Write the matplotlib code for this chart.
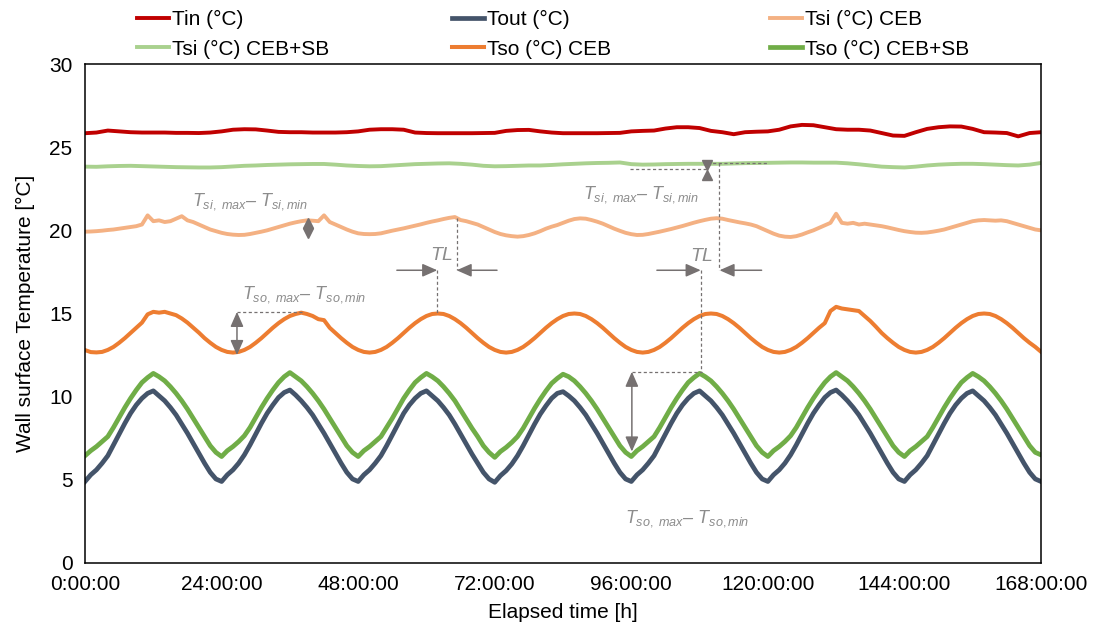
import numpy as np
import matplotlib
matplotlib.use('Agg')
import matplotlib.pyplot as plt

plt.rcParams['font.family'] = ['Liberation Sans', 'DejaVu Sans']
plt.rcParams['mathtext.fontset'] = 'custom'
plt.rcParams['mathtext.it'] = 'Liberation Sans:italic'
plt.rcParams['mathtext.rm'] = 'Liberation Sans'

# elapsed time [h]
hours = np.arange(0, 169)       # hourly readings
hours2 = np.arange(0, 169, 2)   # 2-hourly readings for the flat curves

tin = [25.84, 25.88, 26.0, 25.95, 25.9, 25.88, 25.88, 25.88, 25.86, 25.86, 25.85, 25.88,
       25.95, 26.05, 26.08, 26.07, 26.0, 25.92, 25.9, 25.9, 25.88, 25.88, 25.88, 25.9,
       25.95, 26.05, 26.08, 26.08, 26.05, 25.88, 25.85, 25.84, 25.84, 25.84, 25.84, 25.85,
       25.86, 25.98, 26.03, 26.04, 25.95, 25.88, 25.84, 25.84, 25.84, 25.84, 25.85, 25.86,
       25.95, 25.98, 26.0, 26.12, 26.2, 26.2, 26.15, 25.98, 25.9, 25.78, 25.9, 25.93,
       25.95, 26.05, 26.25, 26.34, 26.32, 26.2, 26.08, 26.05, 26.05, 26.0, 25.85, 25.7,
       25.68, 25.9, 26.1, 26.2, 26.25, 26.24, 26.1, 25.9, 25.88, 25.85, 25.65, 25.85,
       25.9]

tsi_sb = [23.83, 23.82, 23.85, 23.87, 23.88, 23.86, 23.84, 23.82, 23.8, 23.79, 23.78, 23.78,
          23.8, 23.84, 23.88, 23.9, 23.93, 23.95, 23.97, 23.98, 23.99, 23.99, 23.95, 23.9,
          23.87, 23.85, 23.86, 23.9, 23.94, 23.98, 24.0, 24.02, 24.03, 24.0, 23.95, 23.88,
          23.85, 23.86, 23.88, 23.9, 23.9, 23.93, 23.97, 24.0, 24.03, 24.05, 24.06, 24.08,
          23.98, 23.95, 23.96, 23.98, 23.99, 24.0, 24.0, 24.0, 24.0, 24.02, 24.04, 24.05,
          24.06, 24.07, 24.08, 24.08, 24.07, 24.07, 24.07, 24.03, 23.97, 23.9, 23.83, 23.8,
          23.78, 23.83, 23.9, 23.95, 23.98, 24.0, 24.0, 23.98, 23.95, 23.92, 23.9, 23.95,
          24.05]

tout = [4.9, 5.3, 5.6, 6.0, 6.45, 7.1, 7.75, 8.4, 9.0, 9.5, 9.9, 10.2, 10.35, 10.05, 9.75, 9.35, 8.9, 8.35, 7.8, 7.2, 6.6, 6.0, 5.45, 5.05,
        4.9, 5.3, 5.6, 6.0, 6.5, 7.1, 7.75, 8.4, 9.0, 9.5, 9.95, 10.25, 10.4, 10.1, 9.75, 9.35, 8.9, 8.35, 7.8, 7.2, 6.6, 6.0, 5.45, 5.05,
        4.9, 5.3, 5.6, 6.0, 6.45, 7.05, 7.7, 8.35, 9.0, 9.5, 9.9, 10.2, 10.35, 10.05, 9.75, 9.35, 8.9, 8.35, 7.75, 7.15, 6.55, 6.0, 5.45, 5.05,
        4.85, 5.25, 5.55, 5.95, 6.45, 7.05, 7.7, 8.35, 8.95, 9.45, 9.9, 10.2, 10.3, 10.05, 9.75, 9.35, 8.9, 8.35, 7.8, 7.2, 6.6, 6.0, 5.45, 5.05,
        4.9, 5.3, 5.6, 6.0, 6.45, 7.1, 7.75, 8.4, 9.0, 9.5, 9.9, 10.2, 10.35, 10.05, 9.75, 9.35, 8.9, 8.35, 7.8, 7.2, 6.6, 6.0, 5.45, 5.05,
        4.9, 5.3, 5.6, 6.0, 6.5, 7.1, 7.75, 8.4, 9.0, 9.5, 9.95, 10.25, 10.4, 10.1, 9.75, 9.35, 8.9, 8.35, 7.8, 7.2, 6.6, 6.0, 5.45, 5.05,
        4.9, 5.3, 5.6, 6.0, 6.45, 7.1, 7.75, 8.4, 9.0, 9.5, 9.9, 10.2, 10.35, 10.05, 9.75, 9.35, 8.9, 8.35, 7.8, 7.2, 6.6, 6.0, 5.45, 5.05,
        4.9]

tso_sb = [6.45, 6.75, 7.0, 7.3, 7.6, 8.15, 8.75, 9.35, 9.9, 10.4, 10.85, 11.15, 11.4, 11.2, 10.95, 10.6, 10.2, 9.75, 9.25, 8.7, 8.15, 7.6, 7.05, 6.65,
          6.4, 6.75, 7.0, 7.3, 7.65, 8.15, 8.75, 9.35, 9.9, 10.4, 10.85, 11.2, 11.45, 11.2, 10.95, 10.6, 10.2, 9.75, 9.25, 8.7, 8.15, 7.6, 7.05, 6.65,
          6.4, 6.75, 7.0, 7.3, 7.6, 8.15, 8.7, 9.3, 9.9, 10.4, 10.85, 11.15, 11.4, 11.2, 10.95, 10.6, 10.2, 9.75, 9.2, 8.65, 8.1, 7.6, 7.05, 6.65,
          6.35, 6.7, 6.95, 7.25, 7.6, 8.1, 8.7, 9.3, 9.85, 10.35, 10.8, 11.1, 11.35, 11.2, 10.95, 10.6, 10.2, 9.75, 9.25, 8.7, 8.15, 7.6, 7.05, 6.65,
          6.4, 6.75, 7.0, 7.3, 7.6, 8.15, 8.75, 9.35, 9.9, 10.4, 10.85, 11.15, 11.4, 11.2, 10.95, 10.6, 10.2, 9.75, 9.25, 8.7, 8.15, 7.6, 7.05, 6.65,
          6.4, 6.75, 7.0, 7.3, 7.65, 8.15, 8.75, 9.35, 9.9, 10.4, 10.85, 11.2, 11.45, 11.2, 10.95, 10.6, 10.2, 9.75, 9.25, 8.7, 8.15, 7.6, 7.05, 6.65,
          6.4, 6.75, 7.0, 7.3, 7.6, 8.15, 8.75, 9.35, 9.9, 10.4, 10.85, 11.15, 11.4, 11.2, 10.95, 10.6, 10.2, 9.75, 9.25, 8.7, 8.15, 7.6, 7.05, 6.65,
          6.5]

tso_ceb = [12.8, 12.68, 12.66, 12.69, 12.81, 12.99, 13.24, 13.52, 13.83, 14.14, 14.45, 14.95, 15.1, 15.05, 15.1, 15.0, 14.9, 14.7, 14.45, 14.15, 13.85, 13.52, 13.24, 12.99,
           12.81, 12.69, 12.65, 12.69, 12.81, 12.99, 13.24, 13.52, 13.83, 14.14, 14.42, 14.66, 14.85, 14.97, 15.05, 14.97, 14.85, 14.66, 14.6, 14.14, 13.83, 13.52, 13.24, 12.99,
           12.81, 12.69, 12.65, 12.69, 12.81, 12.99, 13.24, 13.52, 13.83, 14.14, 14.42, 14.66, 14.85, 14.97, 15.0, 14.97, 14.85, 14.66, 14.42, 14.14, 13.83, 13.52, 13.24, 12.99,
           12.81, 12.69, 12.65, 12.69, 12.81, 12.99, 13.24, 13.52, 13.83, 14.14, 14.42, 14.66, 14.85, 14.97, 15.0, 14.97, 14.85, 14.66, 14.42, 14.14, 13.83, 13.52, 13.24, 12.99,
           12.81, 12.69, 12.65, 12.69, 12.81, 12.99, 13.24, 13.52, 13.83, 14.14, 14.42, 14.66, 14.85, 14.97, 15.0, 14.97, 14.85, 14.66, 14.42, 14.14, 13.83, 13.52, 13.24, 12.99,
           12.81, 12.69, 12.65, 12.69, 12.81, 12.99, 13.24, 13.52, 13.83, 14.14, 14.42, 15.15, 15.4, 15.3, 15.25, 15.2, 15.15, 14.85, 14.55, 14.2, 13.83, 13.52, 13.24, 12.99,
           12.81, 12.69, 12.65, 12.69, 12.81, 12.99, 13.24, 13.52, 13.83, 14.14, 14.42, 14.66, 14.85, 14.97, 15.0, 14.97, 14.85, 14.66, 14.42, 14.14, 13.83, 13.52, 13.24, 12.99,
           12.7]

tsi_ceb = [19.92, 19.93, 19.95, 19.98, 20.02, 20.05, 20.1, 20.15, 20.2, 20.25, 20.35, 20.9, 20.55, 20.6, 20.5, 20.55, 20.7, 20.85, 20.6, 20.5, 20.35, 20.2, 20.05, 19.95,
           19.85, 19.78, 19.74, 19.72, 19.73, 19.78, 19.85, 19.92, 20.0, 20.1, 20.2, 20.3, 20.4, 20.48, 20.55, 20.6, 20.58, 20.55, 20.9, 20.5, 20.35, 20.2, 20.05, 19.92,
           19.82, 19.78, 19.77, 19.78, 19.82, 19.9, 19.98, 20.05, 20.12, 20.2, 20.28, 20.36, 20.45, 20.53, 20.6, 20.68, 20.75, 20.8, 20.62, 20.55, 20.45, 20.35, 20.2, 20.05,
           19.9, 19.78, 19.7, 19.65, 19.62, 19.65, 19.72, 19.82, 19.95, 20.1, 20.22, 20.32, 20.45, 20.58, 20.68, 20.72, 20.7, 20.62, 20.52, 20.4, 20.25, 20.1, 19.97, 19.85,
           19.77, 19.72, 19.73, 19.78, 19.85, 19.92, 20.0, 20.08, 20.17, 20.26, 20.36, 20.46, 20.55, 20.63, 20.7, 20.73, 20.7, 20.62, 20.55, 20.48, 20.42, 20.35, 20.25, 20.1,
           19.95, 19.8, 19.68, 19.62, 19.6, 19.65, 19.75, 19.88, 20.0, 20.15, 20.3, 20.45, 21.0, 20.45, 20.4, 20.45, 20.35, 20.4, 20.35, 20.3, 20.25, 20.18, 20.1, 20.02,
           19.95, 19.9, 19.86, 19.85, 19.87, 19.92, 19.98, 20.05, 20.15, 20.25, 20.35, 20.45, 20.55, 20.6, 20.62, 20.6, 20.58, 20.6, 20.55, 20.45, 20.35, 20.25, 20.15, 20.05,
           20.0]

xticks = [0, 24, 48, 72, 96, 120, 144, 168]
xlabels = ['0:00:00', '24:00:00', '48:00:00', '72:00:00', '96:00:00',
           '120:00:00', '144:00:00', '168:00:00']

fig = plt.figure(figsize=(10.96, 6.37), dpi=100)
ax = fig.add_axes([0.0776, 0.1162, 0.8722, 0.7833])

l_tin, = ax.plot(hours2, tin, color='#C00000', lw=2.8, label='Tin (°C)')
l_tout, = ax.plot(hours, tout, color='#44546A', lw=3.4, label='Tout (°C)')
l_tsi, = ax.plot(hours, tsi_ceb, color='#F4B183', lw=2.8, label='Tsi (°C) CEB')
l_tsisb, = ax.plot(hours2, tsi_sb, color='#A9D18E', lw=2.8, label='Tsi (°C) CEB+SB')
l_tso, = ax.plot(hours, tso_ceb, color='#ED7D31', lw=2.9, label='Tso (°C) CEB')
l_tsosb, = ax.plot(hours, tso_sb, color='#70AD47', lw=3.4, label='Tso (°C) CEB+SB')

ax.set_xlim(0, 168)
ax.set_ylim(0, 30)
ax.set_xticks(xticks)
ax.set_xticklabels(xlabels)
ax.set_yticks(range(0, 31, 5))
ax.tick_params(length=0, labelsize=15, pad=9)
for s in ax.spines.values():
    s.set_linewidth(1.1)
ax.set_xlabel('Elapsed time [h]', fontsize=15, labelpad=6)
ax.set_ylabel('Wall surface Temperature [°C]', fontsize=15, labelpad=10)

# legend in three columns
leg_cols = [[l_tin, l_tsisb], [l_tout, l_tso], [l_tsi, l_tsosb]]
leg_x = [137, 452, 770]
for handles, px in zip(leg_cols, leg_x):
    lg = fig.legend(handles=handles, loc='upper left',
                    bbox_to_anchor=(px / 1096, 1 - 10 / 637), frameon=False,
                    fontsize=15, handlelength=1.55, handletextpad=0.12,
                    borderpad=0, borderaxespad=0, labelspacing=0.5)

# annotations
acol = '#767171'
tcol = '#8C8C8C'
dash = (0, (2.5, 2))


def vline_dash(x, y0, y1):
    ax.plot([x, x], [y0, y1], color=acol, lw=0.9, ls=dash)


def hline_dash(y, x0, x1):
    ax.plot([x0, x1], [y, y], color=acol, lw=0.9, ls=dash)


def arrow(x0, y0, x1, y1, style='-|>'):
    ax.annotate('', xy=(x1, y1), xytext=(x0, y0),
                arrowprops=dict(arrowstyle=style + ',head_length=0.5,head_width=0.22',
                                color=acol, lw=1.1, shrinkA=0, shrinkB=0,
                                mutation_scale=18))


si_txt = r'$T_{si,\ max}$' + '\u2013 ' + r'$T_{si,min}$'
so_txt = r'$T_{so,\ max}$' + '\u2013 ' + r'$T_{so,min}$'

ax.text(18.75, 21.5, si_txt, color=tcol, fontsize=13, fontstyle='italic', va='baseline')
ax.text(87.5, 21.9, si_txt, color=tcol, fontsize=13, fontstyle='italic', va='baseline')
ax.text(27.5, 15.9, so_txt, color=tcol, fontsize=13, fontstyle='italic', va='baseline')
ax.text(94.9, 2.45, so_txt, color=tcol, fontsize=13, fontstyle='italic', va='baseline')
ax.text(62.7, 18.2, r'$TL$', color=tcol, fontsize=14, ha='center', va='baseline')
ax.text(108.3, 18.15, r'$TL$', color=tcol, fontsize=14, ha='center', va='baseline')

# Tsi CEB amplitude (diamond)
ax.plot([39.2], [20.45], marker='^', ms=7.5, color=acol, ls='none')
ax.plot([39.2], [19.85], marker='v', ms=7.5, color=acol, ls='none')

# Tsi CEB+SB amplitude (hourglass)
hline_dash(23.69, 95.8, 109.3)
hline_dash(24.07, 109.3, 119.9)
ax.plot([109.3], [23.93], marker='v', ms=7.5, color=acol, ls='none')
ax.plot([109.3], [23.33], marker='^', ms=7.5, color=acol, ls='none')

# Tso CEB amplitude
hline_dash(15.1, 26.7, 38.4)
arrow(26.7, 12.5, 26.7, 15.1, '<|-|>')

# Tso CEB+SB amplitude
hline_dash(11.5, 96.1, 108.4)
arrow(96.1, 6.7, 96.1, 11.5, '<|-|>')

# time lags
arrow(54.8, 17.6, 61.9, 17.6)
arrow(72.4, 17.6, 65.3, 17.6)
vline_dash(61.9, 17.6, 15.0)
vline_dash(65.3, 20.75, 17.6)

arrow(100.5, 17.6, 108.2, 17.6)
arrow(118.9, 17.6, 111.5, 17.6)
vline_dash(108.3, 17.6, 11.5)
vline_dash(111.4, 24.05, 17.6)

fig.savefig('out.png', dpi=100)
